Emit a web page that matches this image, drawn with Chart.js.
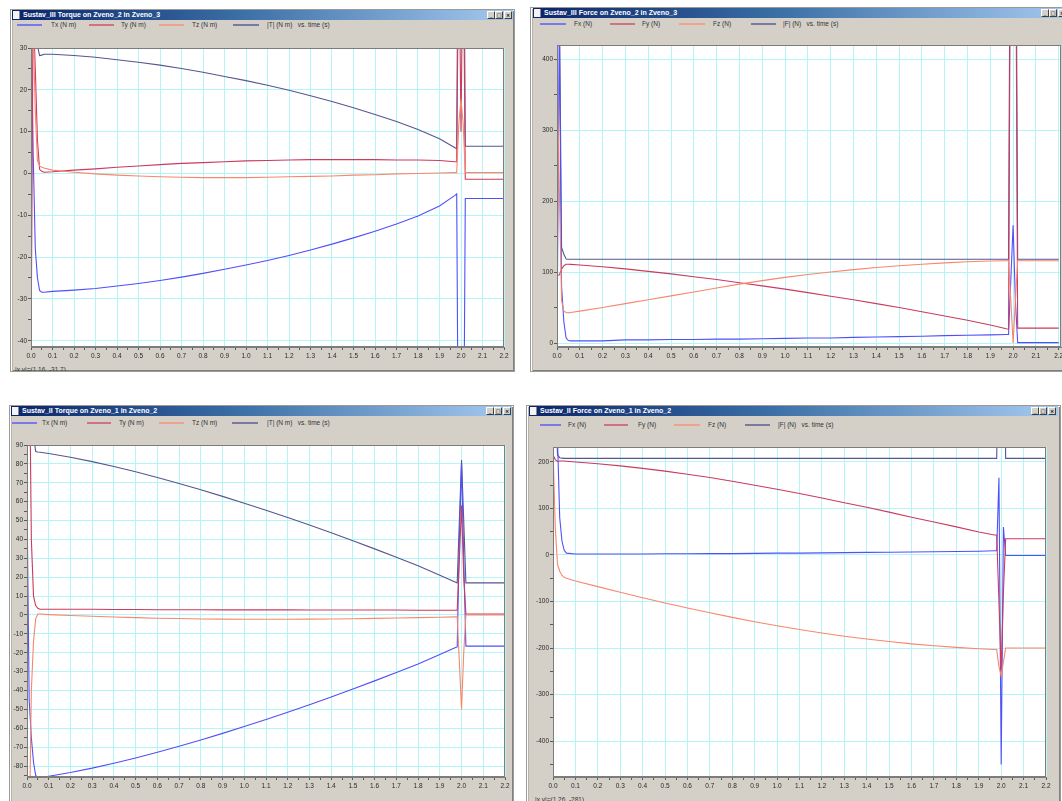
<!DOCTYPE html>
<html>
<head>
<meta charset="utf-8">
<title>Sustav torques and forces</title>
<script src="https://cdn.jsdelivr.net/npm/chart.js@4.4.1/dist/chart.umd.min.js"></script>
<style>
    html, body { margin: 0; padding: 0; background: #fff; width: 1062px; height: 801px; overflow: hidden; }
    body { position: relative; font-family: "Liberation Sans", Arial, sans-serif; }
    .win { position: absolute; background: #d4d0c8; overflow: hidden; box-sizing: border-box;
           border: 1px solid #9c9a94; box-shadow: inset 1px 1px 0 #fff, inset 2px 0 0 #b8b4ac, inset -1px -1px 0 #808080; }
    .title { position: absolute; height: 10px; background: linear-gradient(to right, #0a246a, #3a6ea5 45%, #a6caf0);
             color: #fff; font: bold 7px "Liberation Sans", Arial, sans-serif; line-height: 10px; white-space: nowrap; overflow: hidden; }
    .title .ico { position: absolute; left: 1px; top: 1px; width: 6px; height: 8px; background: #f4f4f4; border-right: 1px solid #888; }
    .title .cap { position: absolute; left: 11px; top: 0; }
    .btn { position: absolute; top: 1px; width: 8px; height: 8px; background: #d4d0c8; box-sizing: border-box;
           border: 1px solid; border-color: #fff #404040 #404040 #fff; color: #000; font: bold 5px "DejaVu Sans", sans-serif;
           line-height: 6px; text-align: center; }
    .ln { position: absolute; height: 2px; opacity: 0.85; }
    .lt { position: absolute; font: 6.5px "Liberation Sans", Arial, sans-serif; color: #333; white-space: pre; line-height: 8px; }
    .status { position: absolute; font: 6.5px "Liberation Sans", Arial, sans-serif; color: #333; white-space: pre; }
    canvas { position: absolute; z-index: 2; }
</style>
</head>
<body>

<!-- upper left: torque, Sustav_III -->
<div class="win" style="left:10px; top:9px; width:505px; height:363px;">
    <div class="status" style="left:4px; top:356px;">|x,y|=(1.16, -31.7)</div>
</div>
<div class="title" style="left:12px; top:10px; width:501px;">
    <div class="ico"></div><div class="cap">Sustav_III Torque on Zveno_2 in Zveno_3</div>
    <div class="btn" style="left:475px;">_</div><div class="btn" style="left:483px;">□</div><div class="btn" style="left:492px;">×</div>
</div>
<div class="ln" style="left:17px; top:24px; width:25px; background:#6a6af0;"></div>
<div class="lt" style="left:51px; top:21px;">Tx (N m)</div>
<div class="ln" style="left:89px; top:24px; width:25px; background:#d06078;"></div>
<div class="lt" style="left:121px; top:21px;">Ty (N m)</div>
<div class="ln" style="left:159px; top:24px; width:25px; background:#f49a84;"></div>
<div class="lt" style="left:192px; top:21px;">Tz (N m)</div>
<div class="ln" style="left:233px; top:24px; width:26px; background:#6a6a9c;"></div>
<div class="lt" style="left:267px; top:21px;">|T| (N m)   vs. time (s)</div>

<!-- upper right: force, Sustav_III -->
<div class="win" style="left:530px; top:7px; width:545px; height:365px;"></div>
<div class="title" style="left:533px; top:8px; width:540px;">
    <div class="ico"></div><div class="cap">Sustav_III Force on Zveno_2 in Zveno_3</div>
    <div class="btn" style="left:508px;">_</div><div class="btn" style="left:516px;">□</div><div class="btn" style="left:525px;">×</div>
</div>
<div class="ln" style="left:540px; top:23px; width:26px; background:#6a6af0;"></div>
<div class="lt" style="left:574px; top:20px;">Fx (N)</div>
<div class="ln" style="left:610px; top:23px; width:25px; background:#d06078;"></div>
<div class="lt" style="left:642px; top:20px;">Fy (N)</div>
<div class="ln" style="left:679px; top:23px; width:26px; background:#f49a84;"></div>
<div class="lt" style="left:713px; top:20px;">Fz (N)</div>
<div class="ln" style="left:751px; top:23px; width:25px; background:#6a6a9c;"></div>
<div class="lt" style="left:783px; top:20px;">|F| (N)   vs. time (s)</div>

<!-- lower left: torque, Sustav_II -->
<div class="win" style="left:9px; top:405px; width:505px; height:400px;"></div>
<div class="title" style="left:11px; top:406px; width:501px;">
    <div class="ico"></div><div class="cap">Sustav_II Torque on Zveno_1 in Zveno_2</div>
    <div class="btn" style="left:475px;">_</div><div class="btn" style="left:483px;">□</div><div class="btn" style="left:492px;">×</div>
</div>
<div class="ln" style="left:12px; top:422px; width:25px; background:#6a6af0;"></div>
<div class="lt" style="left:42px; top:419px;">Tx (N m)</div>
<div class="ln" style="left:87px; top:422px; width:24px; background:#d06078;"></div>
<div class="lt" style="left:119px; top:419px;">Ty (N m)</div>
<div class="ln" style="left:159px; top:422px; width:25px; background:#f49a84;"></div>
<div class="lt" style="left:192px; top:419px;">Tz (N m)</div>
<div class="ln" style="left:232px; top:422px; width:26px; background:#6a6a9c;"></div>
<div class="lt" style="left:267px; top:419px;">|T| (N m)   vs. time (s)</div>

<!-- lower right: force, Sustav_II -->
<div class="win" style="left:526px; top:405px; width:535px; height:400px;">
    <div class="status" style="left:8px; top:390px;">|x,y|=(1.26, -281)</div>
</div>
<div class="title" style="left:529px; top:406px; width:529px;">
    <div class="ico"></div><div class="cap">Sustav_II Force on Zveno_1 in Zveno_2</div>
    <div class="btn" style="left:502px;">_</div><div class="btn" style="left:510px;">□</div><div class="btn" style="left:519px;">×</div>
</div>
<div class="ln" style="left:540px; top:424px; width:21px; background:#6a6af0;"></div>
<div class="lt" style="left:568px; top:421px;">Fx (N)</div>
<div class="ln" style="left:604px; top:424px; width:24px; background:#d06078;"></div>
<div class="lt" style="left:638px; top:421px;">Fy (N)</div>
<div class="ln" style="left:674px; top:424px; width:26px; background:#f49a84;"></div>
<div class="lt" style="left:708px; top:421px;">Fz (N)</div>
<div class="ln" style="left:745px; top:424px; width:25px; background:#6a6a9c;"></div>
<div class="lt" style="left:778px; top:421px;">|F| (N)   vs. time (s)</div>

<canvas id="torque3"></canvas>
<canvas id="force3"></canvas>
<canvas id="torque2"></canvas>
<canvas id="force2"></canvas>

<script>
// sample times (s), shared by every series below
const TIME = [0, 0.01, 0.02, 0.03, 0.04, 0.05, 0.06, 0.1, 0.2, 0.3, 0.4, 0.5, 0.6, 0.7, 0.8, 0.9, 1.0,
              1.1, 1.2, 1.3, 1.4, 1.5, 1.6, 1.7, 1.8, 1.9, 1.97, 1.98, 1.99, 2.0, 2.01, 2.02, 2.03, 2.2];

// Sustav_III torque on Zveno_2 in Zveno_3 (N m)
const S3_TX  = [40, 5, -18, -25, -28, -28.4, -28.4, -28.2, -27.9, -27.5, -26.9, -26.3, -25.6, -24.8, -23.9, -22.9, -21.9,
                -20.8, -19.6, -18.3, -16.9, -15.4, -13.8, -12.1, -10.2, -7.8, -5.3, -4.9, -90, -120, -90, -6, -6, -6];
const S3_TY  = [-45, 40, 25, 8, 1, 0.5, 0.3, 0.4, 0.8, 1.1, 1.5, 1.8, 2.1, 2.4, 2.6, 2.8, 3.0,
                3.1, 3.2, 3.3, 3.3, 3.3, 3.3, 3.2, 3.2, 3.1, 2.8, 2.8, 60, 10, 60, -1.4, -1.4, -1.4];
const S3_TZ  = [50, 35, 15, 3, 1.8, 1.5, 1.3, 0.8, 0.3, -0.1, -0.4, -0.6, -0.8, -0.9, -1.0, -1.0, -1.0,
                -0.9, -0.8, -0.7, -0.6, -0.4, -0.3, -0.1, 0.0, 0.1, 0.2, 0.2, 12, 17.7, 12, 0.2, 0.2, 0.2];
const S3_TABS = [60, 60, 45, 30.5, 28.2, 28.3, 28.5, 28.5, 28.2, 27.8, 27.2, 26.6, 25.9, 25.1, 24.2, 23.2, 22.2,
                 21.1, 19.9, 18.6, 17.2, 15.7, 14.1, 12.4, 10.5, 8.3, 6.2, 5.9, 90, 120, 90, 6.5, 6.5, 6.5];

// Sustav_III force on Zveno_2 in Zveno_3 (N)
const S3_FX  = [0, 450, 80, 30, 7, 3.5, 3, 3, 3, 4.5, 4.5, 5, 5, 5.5, 5.5, 6, 6.5,
                7, 7, 8, 8.5, 9, 9.5, 10.5, 11, 11.5, 12, 12, 90, 166, 60, 0.5, 0.5, 0.5];
const S3_FY  = [95, 96, 104, 109, 111, 111, 110.8, 110, 107.5, 104.5, 101, 97.5, 93.5, 89.5, 85, 80.5, 76,
                71, 66, 61, 55.5, 50, 44, 38, 32, 25.5, 20, 19.5, 700, 800, 700, 21, 21, 21];
const S3_FZ  = [400, 220, 60, 45, 43, 42.5, 43, 45, 50, 55.5, 61, 66.5, 72, 77.5, 83, 88, 92.5,
                96.5, 100, 103.5, 106.5, 109, 111, 113, 114.5, 115.5, 116, 116, 60, 0, 60, 116, 116, 116];
const S3_FABS = [600, 500, 135, 125, 118.5, 118, 118, 118, 118, 118, 118, 118, 118, 118, 118, 118, 118,
                 118, 118, 118, 118, 118, 118, 118, 118, 118, 118, 118, 800, 900, 800, 118, 118, 118];

// Sustav_II torque on Zveno_1 in Zveno_2 (N m)
const S2_TX  = [61, -45, -65, -78, -85, -86, -86.1, -85.4, -83.4, -81.1, -78.5, -75.7, -72.7, -69.5, -66.2, -62.7, -59.1,
                -55.4, -51.5, -47.5, -43.4, -39.2, -34.9, -30.5, -26.0, -20.9, -17.4, -16.9, 40, 80, 30, -16.5, -16.5, -16.5];
const S2_TY  = [200, 150, 40, 10, 5, 3.5, 3, 3, 3, 3, 2.9, 2.9, 2.8, 2.8, 2.8, 2.7, 2.7,
                2.7, 2.7, 2.6, 2.6, 2.6, 2.6, 2.6, 2.5, 2.5, 2.5, 2.5, 30, 58, 20, 0.5, 0.5, 0.5];
const S2_TZ  = [-150, -120, -40, -14, -2, 0.5, 0.5, 0.2, -0.3, -0.7, -1.1, -1.4, -1.7, -1.9, -2.1, -2.2, -2.3,
                -2.3, -2.3, -2.2, -2.1, -2.0, -1.8, -1.6, -1.4, -1.2, -1.0, -1.0, -25, -50, -20, 0, 0, 0];
const S2_TABS = [200, 150, 120, 95, 86.5, 86.3, 86.2, 85.5, 83.5, 81.2, 78.6, 75.8, 72.8, 69.6, 66.3, 62.8, 59.2,
                 55.5, 51.6, 47.6, 43.5, 39.3, 35.0, 30.6, 26.1, 21.0, 17.5, 17, 50, 82, 50, 17, 17, 17];

// Sustav_II force on Zveno_1 in Zveno_2 (N)
const S2_FX  = [300, 300, 250, 80, 30, 10, 4, 2, 2, 2, 2, 2.5, 2.5, 3, 3, 3.5, 4,
                4, 4.5, 5, 5.5, 6, 6.5, 7, 7.5, 8, 9, 9, 166, -450, 60, -1, -1, -1];
const S2_FY  = [215, 205, 201, 202, 202, 201.9, 201.4, 199.8, 196, 191.5, 186, 180.1, 173.4, 166.4, 158.4, 149.9, 141.3,
                132.1, 122.5, 112.3, 102.4, 92, 81.1, 70.9, 60.4, 49.5, 43, 43, -100, -250, -80, 35, 35, 35];
const S2_FZ  = [230, 60, -20, -35, -44, -48, -50, -56, -68, -80, -92, -103, -114, -124, -134, -143.5, -152,
                -160, -167.5, -174.5, -180.5, -186, -191, -195, -198.5, -201.5, -203, -203, -240, -260, -230, -200, -200, -200];
const S2_FABS = [500, 400, 215, 209, 208, 207.5, 207.5, 207.5, 207.5, 207.5, 207.5, 207.5, 207.5, 207.5, 207.5, 207.5, 207.5,
                 207.5, 207.5, 207.5, 207.5, 207.5, 207.5, 207.5, 207.5, 207.5, 207.5, 207.5, 600, 700, 600, 207.5, 207.5, 207.5];

const COL_X = '#5050f8';
const COL_Y = '#cc3a5e';
const COL_Z = '#f8876c';
const COL_ABS = '#565690';
const GRID = '#b4f6f8';
const FONT = '"Liberation Sans", Arial, sans-serif';

Chart.defaults.font.family = FONT;
Chart.defaults.font.size = 6.5;
Chart.defaults.color = '#2a2a2a';

const Y_AXIS_W = 30, PAD_TOP = 6, PAD_RIGHT = 10, X_AXIS_H = 17;

function onStep(v, step) {
    const r = v / step;
    return Math.abs(r - Math.round(r)) < 1e-6;
}

// white plot area and a thin frame round it
const plotFrame = {
    id: 'plotFrame',
    beforeDraw(chart) {
        const { ctx, chartArea: a } = chart;
        ctx.save();
        ctx.fillStyle = '#ffffff';
        ctx.fillRect(a.left, a.top, a.width, a.height);
        ctx.restore();
    },
    afterDraw(chart) {
        const { ctx, chartArea: a } = chart;
        ctx.save();
        ctx.strokeStyle = '#7c7c7c';
        ctx.lineWidth = 1;
        ctx.strokeRect(Math.round(a.left) + 0.5, Math.round(a.top) + 0.5,
                       Math.round(a.width) - 1, Math.round(a.height) - 1);
        ctx.restore();
    }
};

function line(values, color) {
    return {
        data: TIME.map((t, i) => ({ x: t, y: values[i] })),
        borderColor: color,
        borderWidth: 1.1,
        pointRadius: 0,
        tension: 0,
        fill: false
    };
}

// area = plot rectangle on the page; y = { min, max, major, minor }
function drawPanel(canvasId, area, xMax, y, datasets) {
    const cv = document.getElementById(canvasId);
    const w = area.right - area.left + Y_AXIS_W + PAD_RIGHT;
    const h = area.bottom - area.top + PAD_TOP + X_AXIS_H;
    cv.width = w;
    cv.height = h;
    cv.style.width = w + 'px';
    cv.style.height = h + 'px';
    cv.style.left = (area.left - Y_AXIS_W) + 'px';
    cv.style.top = (area.top - PAD_TOP) + 'px';

    return new Chart(cv, {
        type: 'line',
        data: { datasets: datasets },
        options: {
            responsive: false,
            animation: false,
            events: [],
            layout: { padding: { left: 0, top: PAD_TOP, right: PAD_RIGHT, bottom: 0 } },
            plugins: { legend: { display: false }, tooltip: { enabled: false } },
            scales: {
                x: {
                    type: 'linear',
                    min: 0,
                    max: xMax,
                    afterFit: s => { s.height = X_AXIS_H; },
                    ticks: {
                        stepSize: 0.05,
                        autoSkip: false,
                        maxRotation: 0,
                        minRotation: 0,
                        includeBounds: false,
                        padding: 2,
                        callback: v => onStep(v, 0.1) ? v.toFixed(1) : ''
                    },
                    grid: {
                        color: c => (c.tick && onStep(c.tick.value, 0.1)) ? GRID : 'rgba(0,0,0,0)',
                        tickColor: '#5a5a5a',
                        tickLength: 3,
                        lineWidth: 1
                    },
                    border: { color: '#7c7c7c' }
                },
                y: {
                    type: 'linear',
                    min: y.min,
                    max: y.max,
                    afterFit: s => { s.width = Y_AXIS_W; },
                    ticks: {
                        stepSize: y.minor,
                        autoSkip: false,
                        includeBounds: false,
                        padding: 1,
                        callback: v => onStep(v, y.major) ? String(Math.round(v)) : ''
                    },
                    grid: {
                        color: c => (c.tick && onStep(c.tick.value, y.major)) ? GRID : 'rgba(0,0,0,0)',
                        tickColor: '#5a5a5a',
                        tickLength: 3,
                        lineWidth: 1
                    },
                    border: { color: '#7c7c7c' }
                }
            }
        },
        plugins: [plotFrame]
    });
}

drawPanel('torque3', { left: 31, top: 48, right: 504, bottom: 347 }, 2.2,
    { min: -41.5, max: 30, major: 10, minor: 5 },
    [line(S3_TZ, COL_Z), line(S3_TY, COL_Y), line(S3_TX, COL_X), line(S3_TABS, COL_ABS)]);

drawPanel('force3', { left: 557, top: 45, right: 1061, bottom: 347 }, 2.21,
    { min: -5.6, max: 420, major: 100, minor: 50 },
    [line(S3_FZ, COL_Z), line(S3_FY, COL_Y), line(S3_FX, COL_X), line(S3_FABS, COL_ABS)]);

drawPanel('torque2', { left: 27, top: 445, right: 505, bottom: 777 }, 2.2,
    { min: -85.8, max: 90, major: 10, minor: 5 },
    [line(S2_TZ, COL_Z), line(S2_TY, COL_Y), line(S2_TX, COL_X), line(S2_TABS, COL_ABS)]);

drawPanel('force2', { left: 553, top: 447, right: 1046, bottom: 777 }, 2.2,
    { min: -477, max: 232, major: 100, minor: 50 },
    [line(S2_FZ, COL_Z), line(S2_FY, COL_Y), line(S2_FX, COL_X), line(S2_FABS, COL_ABS)]);
</script>
</body>
</html>
